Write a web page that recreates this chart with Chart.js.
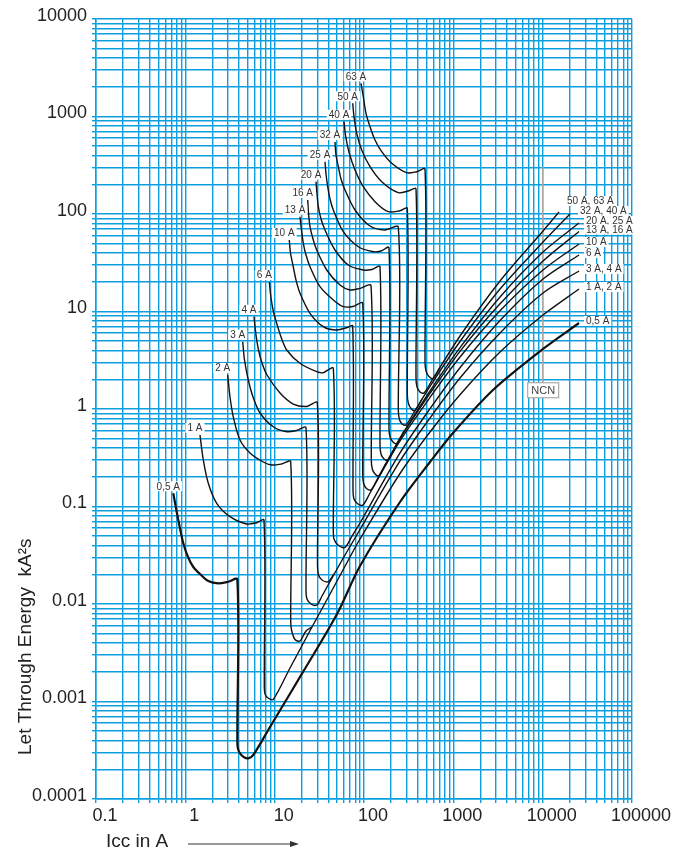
<!DOCTYPE html>
<html>
<head>
<meta charset="utf-8">
<script src="https://cdn.jsdelivr.net/npm/chart.js@4.4.1/dist/chart.umd.min.js"></script>
<style>
  html, body { margin: 0; padding: 0; background: #fff; }
  #wrap { width: 691px; height: 854px; position: relative; }
</style>
</head>
<body>
<div id="wrap"><canvas id="chart"></canvas></div>
<script>
// tick labels
const xTickLabels = ['0.1', '1', '10', '100', '1000', '10000', '100000'];
const yTickLabels = ['0.0001', '0.001', '0.01', '0.1', '1', '10', '100', '1000', '10000'];

// curve names and the group names at the right end
const curveNames = ['0,5 A', '1 A', '2 A', '3 A', '4 A', '6 A', '10 A', '13 A', '16 A', '20 A', '25 A', '32 A', '40 A', '50 A', '63 A'];
const groupNames = ['50 A, 63 A', '32 A, 40 A', '20 A, 25 A', '13 A, 16 A', '10 A', '6 A', '3 A, 4 A', '1 A, 2 A', '0,5 A'];
const groupCurve = ['50 A', '32 A', '20 A', '13 A', '10 A', '6 A', '3 A', '1 A', '0,5 A'];

// Icc (A) / let through energy (kA²s) for each rating
const x_05A = [0.733, 0.834, 0.949, 1.071, 1.228, 1.459, 1.807, 2.339, 3.027, 3.818, 3.818, 3.868, 4.093, 4.538, 5.068, 5.768, 8.867, 20.77, 49.89, 90.2, 253, 548, 992, 2782, 10090, 25520];
const y_05A = [0.1366, 0.0727, 0.0419, 0.03035, 0.02396, 0.02031, 0.01721, 0.01631, 0.01693, 0.01791, 0.000403, 0.000334, 0.000293, 0.000268, 0.000261, 0.000283, 0.000548, 0.00201, 0.0079, 0.02453, 0.1112, 0.286, 0.567, 1.566, 4.126, 7.62];

const x_1A = [1.459, 1.589, 1.807, 2.245, 3.163, 4.864, 6.295, 7.597, 7.656, 7.796, 8.423, 9.656, 14.85, 26.18, 41.65, 69.7, 90.2, 253, 548, 1188, 3332, 10090, 25520];
const y_1A = [0.541, 0.300, 0.1729, 0.1078, 0.0786, 0.0661, 0.0682, 0.0727, 0.001408, 0.001194, 0.001086, 0.001053, 0.002206, 0.00581, 0.01266, 0.03035, 0.0464, 0.218, 0.581, 1.402, 3.842, 9.21, 17.01];

const x_2A = [2.981, 3.163, 3.444, 4.093, 5.296, 7.460, 9.266, 11.99, 15.12, 15.12, 15.44, 16.89, 19.22, 22.43, 26.18];
const y_2A = [2.232, 1.328, 0.828, 0.481, 0.354, 0.286, 0.2665, 0.2729, 0.288, 0.00669, 0.00541, 0.00432, 0.00417, 0.00528, 0.00581];

const x_3A = [4.387, 4.597, 5.068, 5.723, 6.854, 9.656, 13.64, 17.65, 22.43, 22.43, 23.01, 25.51, 29.56, 33.88, 43.84, 61.3, 90.2, 253, 548, 1188, 3332, 10090, 25520];
const y_3A = [4.90, 3.18, 1.983, 1.328, 0.910, 0.658, 0.585, 0.602, 0.643, 0.01392, 0.01125, 0.0100, 0.00977, 0.01208, 0.01848, 0.0318, 0.0581, 0.293, 0.809, 2.079, 6.02, 15.48, 26.03];

const x_4A = [5.873, 6.182, 6.594, 7.217, 8.209, 11.48, 16.17, 22.84, 30.02, 30.17, 30.96, 33.88, 39.86, 46.16];
const y_4A = [8.84, 5.741, 4.03, 2.964, 2.232, 1.459, 1.125, 1.061, 1.160, 0.02453, 0.01983, 0.01763, 0.01693, 0.02031];

const x_6A = [8.710, 9.100, 9.705, 10.54, 11.78, 13.64, 19.22, 29.56, 35.03, 45.34, 45.34, 46.16, 51.17, 61.3, 73.4, 90.2, 253, 548, 1188, 3332, 10090, 25520];
const y_6A = [20.07, 13.76, 9.88, 7.568, 5.476, 4.03, 2.943, 2.413, 2.357, 2.614, 0.0574, 0.0464, 0.0403, 0.0381, 0.0498, 0.0677, 0.354, 1.007, 2.652, 8.07, 21.54, 37.97];

const x_10A = [14.58, 15.04, 16.17, 17.33, 19.22, 24.86, 35.03, 47.36, 64.05, 74.73, 75.34, 77.3, 85.7, 97.5, 116.8, 253, 548, 1188, 3332, 10090, 25520];
const y_10A = [54.1, 39.8, 28.6, 21.04, 15.37, 9.58, 6.984, 6.46, 6.82, 7.10, 0.1476, 0.1194, 0.1061, 0.1036, 0.1375, 0.470, 1.315, 3.415, 10.17, 26.65, 49.24];

const x_13A = [19.22, 19.97, 20.92, 22.43, 24.86, 32.18, 45.34, 58.67, 75.34, 96.74, 96.74, 98.74, 106.7, 119.8, 147.2, 253, 548, 1188, 3332, 10090, 25520];
const y_13A = [93.8, 68.5, 50.07, 37.97, 28.81, 17.96, 13.12, 11.20, 11.25, 12.14, 0.2154, 0.1742, 0.1530, 0.1476, 0.2064, 0.497, 1.445, 3.906, 12.02, 32.96, 66.15];

const x_16A = [23.44, 23.92, 24.86, 26.87, 29.56, 38.24, 53.87, 69.7, 90.2, 119.8, 120.7, 123.9, 132.8, 147.2, 176.4];
const y_16A = [139.2, 102.4, 74.1, 55.4, 42.73, 26.65, 18.70, 16.62, 17.29, 18.39, 0.300, 0.2425, 0.2154, 0.2064, 0.2794];

const x_20A = [29.03, 29.79, 30.8, 33.02, 36.61, 47.36, 66.74, 98.2, 122.9, 151.1, 151.1, 155.0, 167.5, 185.7, 234.1, 253, 548, 1188, 3332, 10090, 25520];
const y_20A = [214.5, 160.4, 118.8, 88.9, 68.5, 42.73, 29.99, 26.65, 26.97, 28.81, 0.4274, 0.3455, 0.307, 0.300, 0.4429, 0.504, 1.530, 4.254, 14.08, 40.77, 80.8];

const x_25A = [36.61, 37.56, 39.24, 41.65, 45.34, 58.67, 86.35, 127.1, 155.0, 190.5, 190.5, 195.5, 211.3, 234.1, 280.5];
const y_25A = [343.9, 257.2, 190.5, 142.5, 109.9, 65.84, 46.18, 41.05, 41.74, 45.11, 0.638, 0.516, 0.4587, 0.4429, 0.595];

const x_32A = [47.36, 48.6, 51.58, 55.28, 61.3, 79.33, 116.8, 171.9, 242.2, 242.2, 248.5, 266.4, 295.3, 372.4, 548, 1188, 3332, 10090, 20240];
const y_32A = [547.6, 402.7, 305.6, 228.6, 176.3, 109.9, 75.3, 68.5, 73.05, 0.977, 0.790, 0.702, 0.685, 0.965, 1.709, 4.924, 17.01, 51.62, 100];

const x_40A = [59.74, 62.41, 68.46, 79.33, 98.2, 132.8, 187.1, 253, 305.3, 305.3, 313.3, 336.0, 372.4, 446.1];
const y_40A = [884.6, 620.5, 419.4, 282.7, 190.5, 133.7, 105.6, 108.1, 114.4, 1.425, 1.152, 1.012, 0.965, 1.260];

const x_50A = [74.73, 77.3, 82.86, 94.27, 116.8, 157.9, 242.2, 313.3, 382.1, 382.1, 392.1, 423.6, 469.6, 592.3, 1188, 3332, 10090, 15240];
const y_50A = [1366, 995, 672.6, 453.4, 305.6, 214.5, 165.4, 172.2, 180.5, 2.079, 1.681, 1.494, 1.459, 2.055, 5.609, 20.55, 66.93, 104.8];

const x_63A = [92.58, 98.2, 105.3, 116.8, 132.8, 157.9, 204.3, 300.6, 389.0, 482.0, 482.0, 494.6, 534.1, 592.3, 709.5];
const y_63A = [2190, 1596, 1078, 786, 574.1, 435.5, 331.1, 265.2, 271.6, 287.4, 3.035, 2.453, 2.154, 2.055, 2.665];

// NCN marker line
const x_NCN = [10000, 10000];
const y_NCN = [303, 1.86];

const curveX = [x_05A, x_1A, x_2A, x_3A, x_4A, x_6A, x_10A, x_13A, x_16A, x_20A, x_25A, x_32A, x_40A, x_50A, x_63A];
const curveY = [y_05A, y_1A, y_2A, y_3A, y_4A, y_6A, y_10A, y_13A, y_16A, y_20A, y_25A, y_32A, y_40A, y_50A, y_63A];

const gridBlue = '#0b9fe0';
const FONT = '"Liberation Sans", Arial, Helvetica, sans-serif';

function toPoints(xs, ys) {
  return xs.map((v, i) => ({ x: v, y: ys[i] }));
}

var datasets = curveNames.map((name, i) => ({
  label: name,
  data: toPoints(curveX[i], curveY[i]),
  borderColor: '#111',
  borderWidth: i === 0 ? 2.2 : 1.4,
  pointRadius: 0,
  tension: 0.3,
  fill: false
}));
datasets.push({
  label: 'NCN',
  data: toPoints(x_NCN, y_NCN),
  borderColor: '#aaaaaa',
  borderWidth: 1.5,
  pointRadius: 0,
  tension: 0,
  fill: false
});

// grid at 1..9 of each decade
function decadeTicks(lo, hi) {
  var out = [];
  for (var e = Math.round(Math.log10(lo)); e <= Math.round(Math.log10(hi)); e++) {
    for (var k = 1; k <= 9; k++) {
      var v = k * Math.pow(10, e);
      if (v <= hi * 1.0000001) out.push({ value: v });
    }
  }
  return out;
}

function decadeLabel(list, first) {
  return function(v) {
    var l = Math.log10(v);
    if (Math.abs(l - Math.round(l)) < 1e-6) return list[Math.round(l) - first];
    return '';
  };
}

function boxText(ctx, text, left, cy) {
  var w = ctx.measureText(text).width;
  ctx.fillStyle = '#fff';
  ctx.fillRect(left - 2, cy - 5, w + 4, 10);
  ctx.fillStyle = '#333';
  ctx.fillText(text, left, cy + 0.5);
}

const labelPlugin = {
  id: 'curveLabels',
  afterDatasetsDraw(chart) {
    const ctx = chart.ctx;
    const xs = chart.scales.x, ys = chart.scales.y;
    ctx.save();
    ctx.font = '10px ' + FONT;
    ctx.textBaseline = 'middle';
    ctx.textAlign = 'left';
    // label at the top of every curve
    curveNames.forEach((name, i) => {
      var px = xs.getPixelForValue(curveX[i][0]);
      var py = ys.getPixelForValue(curveY[i][0]);
      var w = ctx.measureText(name).width;
      boxText(ctx, name, px - 5 - w / 2, py - 7);
    });
    // group labels at the right end
    groupNames.forEach((name, g) => {
      var i = curveNames.indexOf(groupCurve[g]);
      var n = curveX[i].length - 1;
      var px = xs.getPixelForValue(curveX[i][n]);
      var py = ys.getPixelForValue(curveY[i][n]);
      var dx = 7, dy = -2;
      if (name === '50 A, 63 A') { dx = 8; dy = -11; }
      if (name === '32 A, 40 A') { dx = 10; dy = -3; }
      boxText(ctx, name, px + dx, py + dy);
    });
    // NCN box
    var nx = xs.getPixelForValue(x_NCN[1]);
    var ny = ys.getPixelForValue(y_NCN[1]);
    ctx.fillStyle = '#fff';
    ctx.fillRect(nx - 15, ny, 31, 15);
    ctx.strokeStyle = '#aaaaaa';
    ctx.lineWidth = 1.2;
    ctx.strokeRect(nx - 15, ny, 31, 15);
    ctx.font = '11px ' + FONT;
    ctx.fillStyle = '#444';
    ctx.textAlign = 'center';
    ctx.fillText('NCN', nx + 0.5, ny + 8);
    ctx.restore();
  },
  afterDraw(chart) {
    const ctx = chart.ctx;
    ctx.save();
    ctx.fillStyle = '#222';
    ctx.font = '19px ' + FONT;
    ctx.textBaseline = 'alphabetic';
    ctx.textAlign = 'left';
    // y title
    ctx.save();
    ctx.translate(31, 755);
    ctx.rotate(-Math.PI / 2);
    ctx.fillText('Let Through Energy  kA\u00b2s', 0, 0);
    ctx.restore();
    // x title and arrow
    ctx.fillText('Icc in A', 106, 847);
    ctx.strokeStyle = '#333';
    ctx.lineWidth = 1.2;
    ctx.beginPath();
    ctx.moveTo(188, 844);
    ctx.lineTo(292, 844);
    ctx.stroke();
    ctx.beginPath();
    ctx.moveTo(299, 844);
    ctx.lineTo(290, 841);
    ctx.lineTo(290, 847);
    ctx.closePath();
    ctx.fillStyle = '#333';
    ctx.fill();
    ctx.restore();
  }
};

new Chart(document.getElementById('chart'), {
  type: 'line',
  data: { datasets: datasets },
  options: {
    responsive: true,
    maintainAspectRatio: false,
    animation: false,
    layout: { padding: { top: 19, right: 59, left: 0, bottom: 0 } },
    plugins: { legend: { display: false }, tooltip: { enabled: false } },
    scales: {
      x: {
        type: 'logarithmic',
        min: 0.1,
        max: 100000,
        afterFit: function(s) { s.height = 55; },
        afterBuildTicks: function(s) { s.ticks = decadeTicks(0.1, 100000); },
        grid: { color: gridBlue, lineWidth: 1.4, tickLength: 4, drawTicks: true },
        border: { color: gridBlue, width: 1.5 },
        ticks: {
          autoSkip: false, maxRotation: 0, minRotation: 0, padding: 2, labelOffset: 9,
          color: '#222', font: { family: FONT, size: 18 },
          callback: decadeLabel(xTickLabels, -1)
        }
      },
      y: {
        type: 'logarithmic',
        min: 0.0001,
        max: 10000,
        afterFit: function(s) { s.width = 96; },
        afterBuildTicks: function(s) { s.ticks = decadeTicks(0.0001, 10000); },
        grid: { color: gridBlue, lineWidth: 1.4, tickLength: 4, drawTicks: true },
        border: { color: gridBlue, width: 1.5 },
        ticks: {
          autoSkip: false, padding: 5, labelOffset: -3,
          color: '#222', font: { family: FONT, size: 18 },
          callback: decadeLabel(yTickLabels, -4)
        }
      }
    }
  },
  plugins: [labelPlugin]
});
</script>
</body>
</html>
